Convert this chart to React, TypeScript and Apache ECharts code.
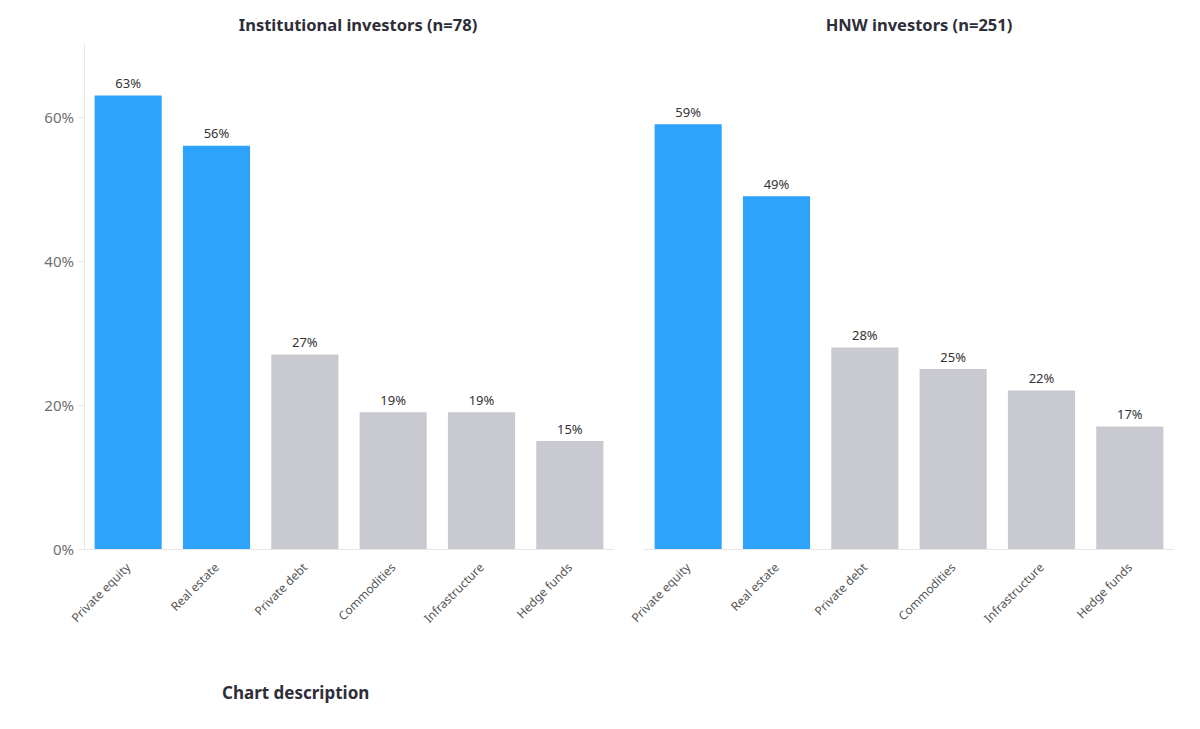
import React, { useEffect, useRef } from "react";
import * as echarts from "echarts";

const categories = ["Private equity", "Real estate", "Private debt", "Commodities", "Infrastructure", "Hedge funds"];
const institutionalValues = [63, 56, 27, 19, 19, 15];
const hnwValues = [59, 49, 28, 25, 22, 17];
const highlighted = [true, true, false, false, false, false];
const titles = ["Institutional investors (n=78)", "HNW investors (n=251)"];

const BLUE = "#2EA3FC";
const GREY = "#C9C9D1";
const FONT = "'Noto Sans', 'DejaVu Sans', sans-serif";

export default function App() {
  const ref = useRef<HTMLDivElement>(null);
  useEffect(() => {
    document.body.style.margin = "0";
    if (!ref.current) return;
    const chart = echarts.init(ref.current, undefined, { renderer: "svg" });
    const mkData = (vals: number[]) =>
      vals.map((v, i) => ({ value: v, itemStyle: { color: highlighted[i] ? BLUE : GREY } }));
    const xAxisBase = (gridIndex: number) => ({
      type: "category" as const,
      gridIndex,
      data: categories,
      axisLine: { lineStyle: { color: "#E6E6E6" } },
      axisTick: { alignWithLabel: true, length: 5, lineStyle: { color: "#E6E6E6" } },
      axisLabel: { rotate: 45, color: "#555", fontSize: 12, fontFamily: FONT, margin: 16 },
    });
    const yAxisBase = (gridIndex: number, show: boolean) => ({
      type: "value" as const,
      gridIndex,
      min: 0,
      max: 70,
      interval: 20,
      splitLine: { show: false },
      axisLine: { show, lineStyle: { color: "#E6E6E6" } },
      axisTick: { show, length: 5, lineStyle: { color: "#E6E6E6" } },
      axisLabel: {
        show,
        showMaxLabel: false,
        formatter: (v: number) => (v === 70 ? "" : v + "%"),
        color: "#707070",
        fontSize: 15,
        fontFamily: FONT,
        margin: 10,
      },
    });
    const seriesBase = (idx: number, vals: number[]) => ({
      type: "bar" as const,
      xAxisIndex: idx,
      yAxisIndex: idx,
      data: mkData(vals),
      barCategoryGap: "24%",
      label: {
        show: true,
        position: "top" as const,
        formatter: (p: any) => p.value + "%",
        color: "#333",
        fontSize: 13,
        fontFamily: FONT,
        distance: 6,
      },
    });
    chart.setOption({
      animation: false,
      backgroundColor: "#fff",
      title: [
        {
          text: titles[0],
          left: 353,
          top: 11,
          textAlign: "center",
          textStyle: { fontSize: 16.5, fontWeight: "bold", color: "#2E2E38", fontFamily: FONT },
        },
        {
          text: titles[1],
          left: 914,
          top: 11,
          textAlign: "center",
          textStyle: { fontSize: 16.5, fontWeight: "bold", color: "#2E2E38", fontFamily: FONT },
        },
      ],
      grid: [
        { left: 84, right: 586, top: 45, bottom: 180 },
        { left: 644, right: 26, top: 45, bottom: 180 },
      ],
      xAxis: [xAxisBase(0), xAxisBase(1)],
      yAxis: [yAxisBase(0, true), yAxisBase(1, false)],
      series: [seriesBase(0, institutionalValues), seriesBase(1, hnwValues)],
      graphic: [
        {
          type: "text",
          left: 222,
          top: 684,
          style: { text: "Chart description", fontSize: 17, fontWeight: "bold", fill: "#2E2E38", fontFamily: FONT },
        },
      ],
    });
    return () => chart.dispose();
  }, []);
  return <div ref={ref} style={{ width: 1200, height: 729 }} />;
}
